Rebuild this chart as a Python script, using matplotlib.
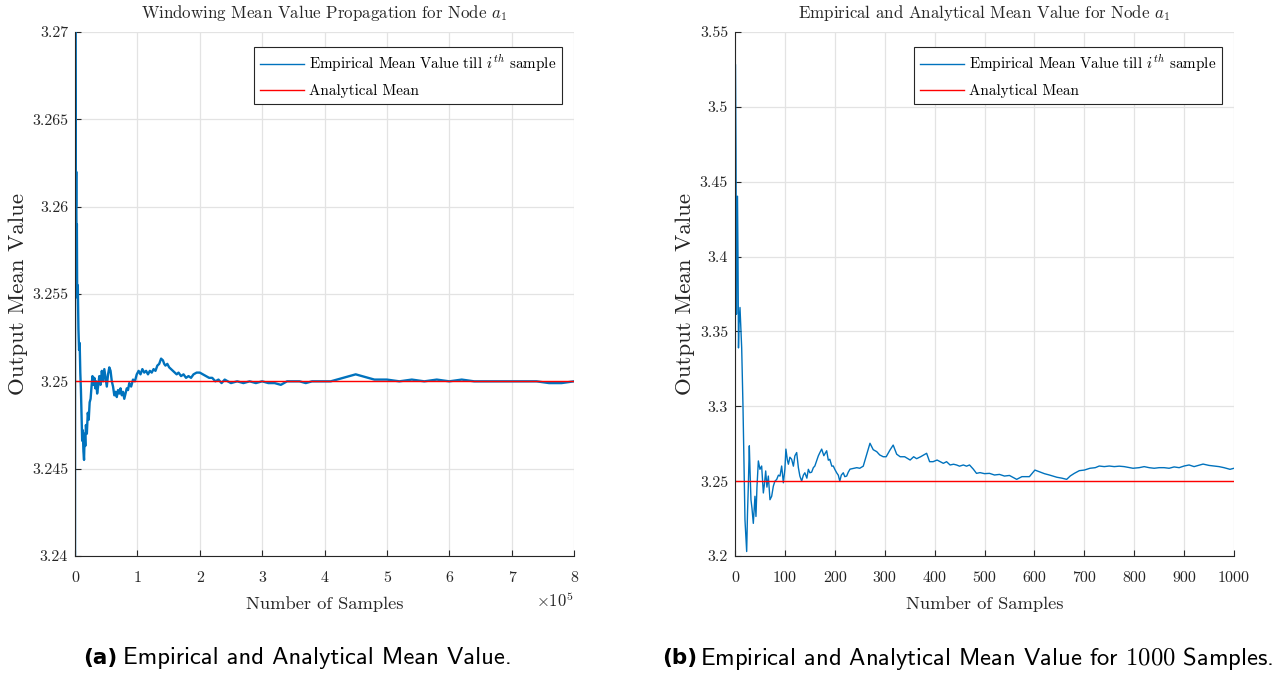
import matplotlib
matplotlib.use("Agg")
import matplotlib.pyplot as plt
import numpy as np

plt.rcParams['font.family'] = ['cmr10', 'DejaVu Serif']
plt.rcParams['mathtext.fontset'] = 'cm'
plt.rcParams['axes.unicode_minus'] = False
plt.rcParams['axes.formatter.use_mathtext'] = True

# ---------------- data: panel (a) ----------------
samples_a = [0.000, 0.002, 0.006, 0.010, 0.015, 0.020, 0.025, 0.030, 0.035, 0.045,
             0.055, 0.065, 0.075, 0.085, 0.095, 0.105, 0.115, 0.125, 0.135, 0.145,
             0.155, 0.165, 0.175, 0.190, 0.205, 0.220, 0.235, 0.250, 0.265, 0.280,
             0.295, 0.310, 0.325, 0.340, 0.355, 0.370, 0.390, 0.410, 0.430, 0.450,
             0.470, 0.490, 0.510, 0.530, 0.550, 0.570, 0.590, 0.610, 0.630, 0.650,
             0.670, 0.690, 0.710, 0.730, 0.750, 0.770, 0.790, 0.810, 0.830, 0.850,
             0.870, 0.900, 0.930, 0.960, 0.990, 1.020, 1.050, 1.080, 1.110, 1.140,
             1.170, 1.200, 1.230, 1.260, 1.290, 1.320, 1.350, 1.380, 1.410, 1.430,
             1.450, 1.480, 1.510, 1.540, 1.570, 1.600, 1.630, 1.660, 1.700, 1.740,
             1.780, 1.820, 1.860, 1.900, 1.950, 2.000, 2.050, 2.100, 2.150, 2.200,
             2.250, 2.300, 2.350, 2.400, 2.450, 2.500, 2.600, 2.700, 2.800, 2.900,
             3.000, 3.100, 3.200, 3.300, 3.400, 3.500, 3.600, 3.700, 3.800, 3.900,
             4.000, 4.100, 4.200, 4.300, 4.400, 4.500, 4.600, 4.700, 4.800, 4.900,
             5.000, 5.200, 5.400, 5.600, 5.800, 6.000, 6.200, 6.400, 6.600, 6.800,
             7.000, 7.200, 7.400, 7.600, 7.800, 8.000]
values_a = [3.2380, 3.2800, 3.2700, 3.2640, 3.2600, 3.2620, 3.2575, 3.2590, 3.2548, 3.2555,
            3.2530, 3.2518, 3.2522, 3.2505, 3.2495, 3.2480, 3.2466, 3.2472, 3.2460, 3.2455,
            3.2470, 3.2463, 3.2475, 3.2470, 3.2482, 3.2478, 3.2488, 3.2490, 3.2497, 3.2503,
            3.2498, 3.2502, 3.2496, 3.2500, 3.2493, 3.2497, 3.2503, 3.2498, 3.2506, 3.2500,
            3.2507, 3.2502, 3.2497, 3.2504, 3.2508, 3.2506, 3.2500, 3.2497, 3.2492, 3.2494,
            3.2491, 3.2495, 3.2493, 3.2496, 3.2492, 3.2494, 3.2490, 3.2493, 3.2496, 3.2495,
            3.2499, 3.2497, 3.2501, 3.2500, 3.2504, 3.2506, 3.2504, 3.2507, 3.2505, 3.2506,
            3.2504, 3.2506, 3.2505, 3.2507, 3.2506, 3.2509, 3.2510, 3.2513, 3.2512, 3.2510,
            3.2509, 3.2510, 3.2508, 3.2507, 3.2506, 3.2505, 3.2504, 3.2505, 3.2503, 3.2504,
            3.2502, 3.2503, 3.2502, 3.2504, 3.2505, 3.2505, 3.2504, 3.2503, 3.2502, 3.2502,
            3.2500, 3.2501, 3.2499, 3.2501, 3.2500, 3.2499, 3.2500, 3.2499, 3.2500, 3.2499,
            3.2500, 3.2499, 3.2499, 3.2498, 3.2500, 3.2500, 3.2500, 3.2499, 3.2500, 3.2500,
            3.2500, 3.2500, 3.2501, 3.2502, 3.2503, 3.2504, 3.2503, 3.2502, 3.2501, 3.2501,
            3.2501, 3.2500, 3.2501, 3.2500, 3.2501, 3.2500, 3.2501, 3.2500, 3.2500, 3.2500,
            3.2500, 3.2500, 3.2500, 3.2499, 3.2499, 3.2500]
analytical_mean = 3.25
xticks_a = [0, 1, 2, 3, 4, 5, 6, 7, 8]
yticks_a = [3.24, 3.245, 3.25, 3.255, 3.26, 3.265, 3.27]
ytick_labels_a = ['3.24', '3.245', '3.25', '3.255', '3.26', '3.265', '3.27']

# ---------------- data: panel (b) ----------------
samples_b = [1, 2, 3, 4, 5, 6, 7, 8, 10, 12,
             13.4, 16, 18, 20, 22, 23.4, 25, 26.7, 28.7, 30,
             32, 34, 36.7, 40, 42, 44, 46.8, 50, 53.4, 56.8,
             59, 61.5, 64, 66.8, 70.1, 73.5, 76.8, 80, 83.5, 87,
             90.2, 93.5, 96.9, 100, 102, 105, 107, 110, 113.5, 117,
             120, 123.6, 127, 130, 133.6, 137, 140, 144, 147, 150,
             153.6, 157, 160, 164, 167, 170, 173.7, 178, 183.7, 187,
             190, 194, 197, 200, 203.7, 207, 210, 213, 217, 220,
             223.8, 227, 230.5, 237, 244, 250, 257, 264, 270.5, 277,
             284, 290, 297, 303, 310.6, 317, 324, 331, 340, 351,
             358, 364, 372, 384, 390, 397, 405, 417.5, 424, 431,
             438, 444, 450, 457.6, 464, 470, 477.6, 484, 491, 500,
             510, 520, 530, 540, 550, 564.5, 575, 590, 601, 610,
             620, 630, 645, 655, 664.7, 672, 680, 690, 700, 711.4,
             722, 730, 740, 750, 760, 770, 780, 797.6, 810, 820,
             830, 840, 850, 860, 870, 880, 890, 900, 910, 920,
             938, 950, 960, 970, 980, 992, 1000]
values_b = [3.528, 3.470, 3.3615, 3.440, 3.4403, 3.400, 3.339, 3.355, 3.366, 3.350,
            3.339, 3.300, 3.260, 3.224, 3.212, 3.203, 3.228, 3.2466, 3.2736, 3.258,
            3.2376, 3.232, 3.2218, 3.2399, 3.2264, 3.246, 3.2635, 3.2579, 3.2601, 3.2421,
            3.248, 3.2568, 3.246, 3.2534, 3.2376, 3.2399, 3.2466, 3.250, 3.2511, 3.254,
            3.2534, 3.2601, 3.2489, 3.258, 3.2714, 3.264, 3.2613, 3.266, 3.2646, 3.260,
            3.2669, 3.2691, 3.259, 3.2534, 3.250, 3.254, 3.2556, 3.252, 3.2579, 3.2556,
            3.2560, 3.259, 3.2601, 3.264, 3.2669, 3.269, 3.2714, 3.267, 3.2703, 3.264,
            3.2646, 3.260, 3.2601, 3.2579, 3.2556, 3.254, 3.250, 3.254, 3.2556, 3.253,
            3.2534, 3.256, 3.2580, 3.2585, 3.2590, 3.2586, 3.2600, 3.2680, 3.2753, 3.2710,
            3.2697, 3.2675, 3.2663, 3.2663, 3.2708, 3.2741, 3.2680, 3.2663, 3.2663, 3.2641,
            3.2663, 3.2650, 3.2663, 3.2686, 3.2630, 3.2630, 3.2641, 3.2619, 3.2630, 3.2608,
            3.2613, 3.2608, 3.2600, 3.2608, 3.2600, 3.2608, 3.2580, 3.2552, 3.2557, 3.2550,
            3.2552, 3.2541, 3.2545, 3.2534, 3.2538, 3.2512, 3.2530, 3.2530, 3.2574, 3.2563,
            3.2550, 3.2541, 3.2526, 3.2520, 3.2512, 3.2535, 3.2552, 3.2570, 3.2574, 3.2586,
            3.2590, 3.2601, 3.2597, 3.2601, 3.2597, 3.2600, 3.2597, 3.2586, 3.2590, 3.2597,
            3.2590, 3.2586, 3.2590, 3.2590, 3.2586, 3.2595, 3.2590, 3.2601, 3.2608, 3.2597,
            3.2614, 3.2605, 3.2601, 3.2597, 3.2590, 3.2579, 3.2586]
xticks_b = [0, 100, 200, 300, 400, 500, 600, 700, 800, 900, 1000]
yticks_b = [3.2, 3.25, 3.3, 3.35, 3.4, 3.45, 3.5, 3.55]
ytick_labels_b = ['3.2', '3.25', '3.3', '3.35', '3.4', '3.45', '3.5', '3.55']

titles = ['Windowing Mean Value Propagation for Node $a_1$',
          'Empirical and Analytical Mean Value for Node $a_1$']
legend_labels = ['Empirical Mean Value till $i^{th}$ sample', 'Analytical Mean']
xlabel = 'Number of Samples'
ylabel = 'Output Mean Value'

BLUE = '#0072BD'
RED = '#FF0000'
GRID = '#e3e3e3'
AXC = '#262626'

fig = plt.figure(figsize=(12.72, 6.73), dpi=100)
W, H = 1272.0, 673.0
ax1 = fig.add_axes([75 / W, 1 - 556 / H, 499 / W, 524 / H])
ax2 = fig.add_axes([735 / W, 1 - 556 / H, 499 / W, 524 / H])


def style(ax, xlim, ylim, xticks, xticklabels, yticks, yticklabels, title, ylab_x):
    ax.set_xlim(*xlim)
    ax.set_ylim(*ylim)
    ax.set_xticks(xticks)
    ax.set_xticklabels(xticklabels)
    ax.set_yticks(yticks)
    ax.set_yticklabels(yticklabels)
    ax.grid(True, color=GRID, linewidth=0.9)
    ax.set_axisbelow(True)
    for s in ['top', 'right']:
        ax.spines[s].set_visible(False)
    for s in ['left', 'bottom']:
        ax.spines[s].set_color(AXC)
        ax.spines[s].set_linewidth(0.8)
    ax.tick_params(direction='in', length=4, width=0.8, color=AXC,
                   labelsize=11.5, labelcolor=AXC)
    ax.tick_params(axis='x', pad=11)
    ax.tick_params(axis='y', pad=5)
    ax.set_title(title, fontsize=12.2, color=AXC, pad=10)
    ax.set_xlabel(xlabel, fontsize=13.3, color=AXC, va='center')
    ax.xaxis.set_label_coords(0.5, -0.0916)
    ax.set_ylabel(ylabel, fontsize=16.5, color=AXC, va='center')
    ax.yaxis.set_label_coords(ylab_x, 0.5)


x_a = np.array(samples_a) * 1e5
ax1.plot(x_a, values_a, color=BLUE, linewidth=1.7, label=legend_labels[0])
ax1.axhline(analytical_mean, color=RED, linewidth=1.0, label=legend_labels[1])
style(ax1, (0, 8e5), (3.24, 3.27), np.array(xticks_a) * 1e5,
      [str(t) for t in xticks_a], yticks_a, ytick_labels_a, titles[0], -0.114)
ax1.text(1.0, -0.085, r'$\times10^5$', transform=ax1.transAxes, ha='right',
         va='center', fontsize=12, color=AXC)

ax2.plot(samples_b, values_b, color=BLUE, linewidth=1.0, label=legend_labels[0])
ax2.axhline(analytical_mean, color=RED, linewidth=1.0, label=legend_labels[1])
style(ax2, (0, 1000), (3.2, 3.55), xticks_b, [str(t) for t in xticks_b],
      yticks_b, ytick_labels_b, titles[1], -0.100)

for ax in (ax1, ax2):
    leg = ax.legend(loc='upper right', bbox_to_anchor=(0.976, 0.971), fontsize=10.9,
                    frameon=True, fancybox=False, framealpha=1, edgecolor=AXC,
                    borderpad=0.4, handlelength=2.9, handletextpad=0.3,
                    labelspacing=0.62, borderaxespad=0)
    leg.get_frame().set_linewidth(0.8)
    for hl in leg.get_lines():
        hl.set_linewidth(1.0)

# captions
fig.text(83 / W, 1 - 658 / H, '(a)', fontsize=15.5, fontweight='bold',
         family='DejaVu Sans', va='center', ha='left')
fig.text(123 / W, 1 - 658 / H, 'Empirical and Analytical Mean Value.', fontsize=17.7,
         family=['cmss10', 'DejaVu Sans'], va='center', ha='left')
fig.text(662 / W, 1 - 658 / H, '(b)', fontsize=15.5, fontweight='bold',
         family='DejaVu Sans', va='center', ha='left')
fig.text(700 / W, 1 - 658 / H, 'Empirical and Analytical Mean Value for $1000$ Samples.',
         fontsize=17.7, family=['cmss10', 'DejaVu Sans'], va='center', ha='left')

fig.savefig('out.png', dpi=100)
